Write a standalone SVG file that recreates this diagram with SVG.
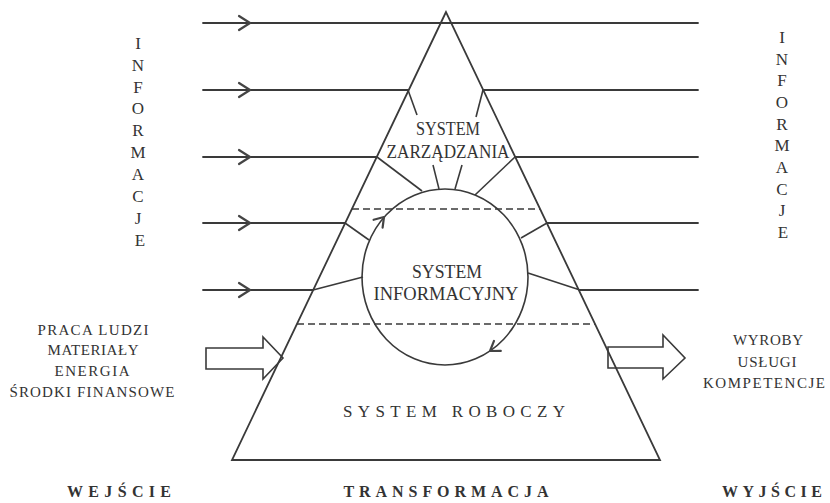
<svg xmlns="http://www.w3.org/2000/svg" xmlns:xlink="http://www.w3.org/1999/xlink" width="830" height="503" viewBox="0 0 830 503">
<style>
.ln{stroke:#3a3a3a;stroke-width:1.8;fill:none;stroke-linecap:round}
.thin{stroke:#3a3a3a;stroke-width:1.6;fill:none}
.dash{stroke:#3a3a3a;stroke-width:1.5;fill:none;stroke-dasharray:7 4}
.chev{stroke:#444;stroke-width:2.2;fill:none;stroke-linecap:round;stroke-linejoin:round}
.t{font-family:"Liberation Serif","Times New Roman",serif;fill:#333;text-anchor:middle}
.v{font-size:17px}
.s{font-size:15px}
.b{font-size:16px;font-weight:bold}
</style>
<defs>
<path id="chev" class="chev" d="M-11,-7 L0,0 L-11,7"/>
</defs>
<rect width="830" height="503" fill="#ffffff"/>

<g id="connectors">
  <line class="ln" x1="203" y1="23" x2="698" y2="23"/>
  <line class="ln" x1="203" y1="90" x2="408" y2="90"/>
  <line class="ln" x1="483" y1="90" x2="698" y2="90"/>
  <line class="ln" x1="203" y1="157" x2="377" y2="157"/>
  <line class="ln" x1="515" y1="157" x2="698" y2="157"/>
  <line class="ln" x1="203" y1="223" x2="345" y2="223"/>
  <line class="ln" x1="547" y1="223" x2="698" y2="223"/>
  <line class="ln" x1="203" y1="290" x2="313" y2="290"/>
  <line class="ln" x1="580" y1="290" x2="698" y2="290"/>
  <use xlink:href="#chev" href="#chev" x="250" y="23"/>
  <use xlink:href="#chev" href="#chev" x="250" y="90"/>
  <use xlink:href="#chev" href="#chev" x="250" y="157"/>
  <use xlink:href="#chev" href="#chev" x="250" y="223"/>
  <use xlink:href="#chev" href="#chev" x="250" y="290"/>
  <line class="thin" x1="408" y1="90" x2="417" y2="115"/>
  <line class="thin" x1="483" y1="90" x2="476" y2="117"/>
  <line class="thin" x1="377" y1="157" x2="422" y2="191"/>
  <line class="thin" x1="515" y1="157" x2="475" y2="195"/>
  <line class="thin" x1="433" y1="165" x2="439" y2="189"/>
  <line class="thin" x1="462" y1="165" x2="455" y2="189"/>
  <line class="thin" x1="345" y1="223" x2="369" y2="240"/>
  <line class="thin" x1="547" y1="223" x2="521" y2="238"/>
  <line class="thin" x1="313" y1="290" x2="363" y2="277"/>
  <line class="thin" x1="580" y1="290" x2="528" y2="273"/>
</g>

<g id="system-roboczy">
  <polygon class="ln" points="446,12 232,460 660,460" stroke-linejoin="miter"/>
  <line class="dash" x1="352" y1="209" x2="540" y2="209"/>
  <line class="dash" x1="297" y1="324" x2="595" y2="324"/>
  <text class="t" x="454" y="417" font-size="17" textLength="222" lengthAdjust="spacing">SYSTEM ROBOCZY</text>
</g>

<g id="system-zarzadzania">
  <text class="t" x="448" y="135" font-size="18" textLength="64" lengthAdjust="spacingAndGlyphs">SYSTEM</text>
  <text class="t" x="448" y="158" font-size="18" textLength="123" lengthAdjust="spacingAndGlyphs">ZARZĄDZANIA</text>
</g>

<g id="system-informacyjny">
  <ellipse class="thin" cx="445" cy="277" rx="83" ry="88"/>
  <path class="chev" d="M373.6,219.8 L384,217 L382.6,227.7"/>
  <path class="chev" d="M494,340.9 L490,351 L500.8,350.9"/>
  <text class="t" x="447" y="278" font-size="18" textLength="70" lengthAdjust="spacingAndGlyphs">SYSTEM</text>
  <text class="t" x="446" y="300" font-size="18" textLength="145" lengthAdjust="spacingAndGlyphs">INFORMACYJNY</text>
</g>

<g id="wejscie-strzalka">
  <polygon class="thin" points="206,348 263,348 263,337 283,358 263,379 263,369 206,369"/>
</g>
<g id="wyjscie-strzalka">
  <polygon class="thin" points="608,347 663,347 663,335 685,358 663,379 663,368 608,368"/>
</g>

<g id="informacje-lewe">
  <text class="t v" x="138" y="49">I</text>
  <text class="t v" x="138" y="71">N</text>
  <text class="t v" x="138" y="93">F</text>
  <text class="t v" x="138" y="114">O</text>
  <text class="t v" x="138" y="136">R</text>
  <text class="t v" x="138" y="158">M</text>
  <text class="t v" x="138" y="180">A</text>
  <text class="t v" x="138" y="202">C</text>
  <text class="t v" x="138" y="224">J</text>
  <text class="t v" x="140" y="246">E</text>
</g>

<g id="informacje-prawe">
  <text class="t v" x="782" y="43">I</text>
  <text class="t v" x="782" y="65">N</text>
  <text class="t v" x="782" y="86">F</text>
  <text class="t v" x="782" y="108">O</text>
  <text class="t v" x="782" y="130">R</text>
  <text class="t v" x="782" y="151">M</text>
  <text class="t v" x="782" y="173">A</text>
  <text class="t v" x="782" y="195">C</text>
  <text class="t v" x="782" y="216">J</text>
  <text class="t v" x="783" y="238">E</text>
</g>

<g id="zasoby">
  <text class="t s" x="93" y="335" textLength="111" lengthAdjust="spacing">PRACA LUDZI</text>
  <text class="t s" x="93" y="355" textLength="91" lengthAdjust="spacing">MATERIAŁY</text>
  <text class="t s" x="92" y="376" textLength="75" lengthAdjust="spacing">ENERGIA</text>
  <text class="t s" x="92" y="397" textLength="165" lengthAdjust="spacing">ŚRODKI FINANSOWE</text>
</g>

<g id="wyniki">
  <text class="t s" x="768" y="345" textLength="70" lengthAdjust="spacing">WYROBY</text>
  <text class="t s" x="767" y="367" textLength="59" lengthAdjust="spacing">USŁUGI</text>
  <text class="t s" x="764" y="388" textLength="122" lengthAdjust="spacing">KOMPETENCJE</text>
</g>

<g id="etykiety">
  <text class="t b" x="119" y="497" textLength="104" lengthAdjust="spacing">WEJŚCIE</text>
  <text class="t b" x="446" y="497" textLength="205" lengthAdjust="spacing">TRANSFORMACJA</text>
  <text class="t b" x="772" y="497" textLength="100" lengthAdjust="spacing">WYJŚCIE</text>
</g>
</svg>
